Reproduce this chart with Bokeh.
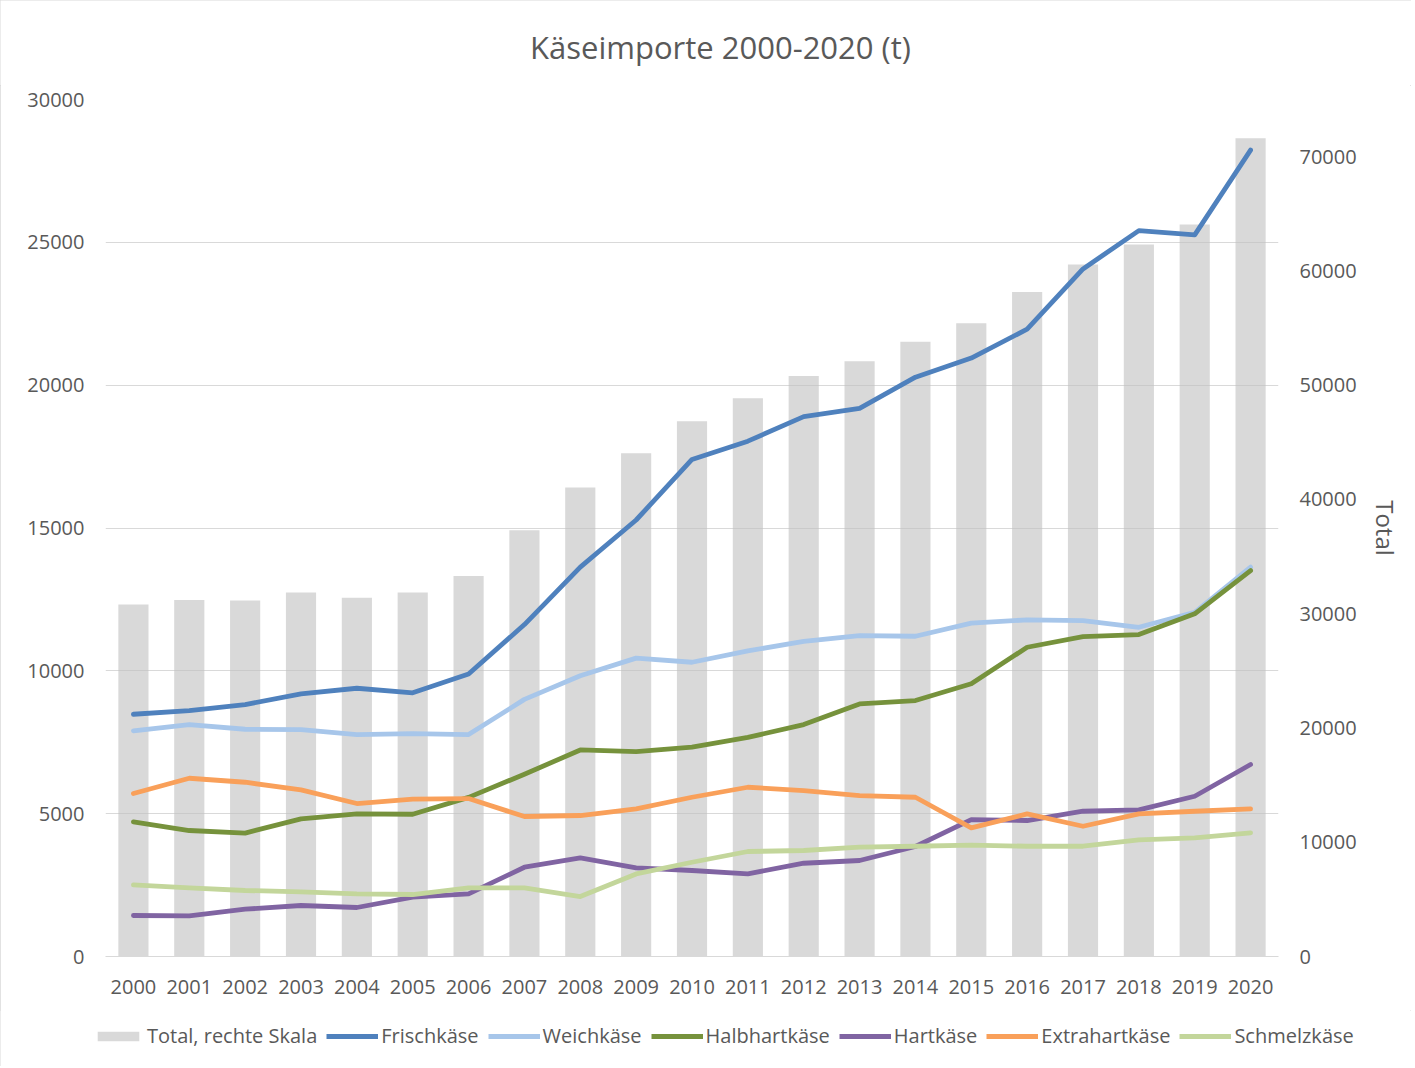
from bokeh.plotting import figure
from bokeh.layouts import column
from bokeh.models import (Range1d, LinearAxis, FixedTicker, Legend, LegendItem, FactorRange,
                          ColumnDataSource, Label)
from bokeh.embed import file_html
from bokeh.resources import INLINE

years = [str(y) for y in range(2000, 2021)]
total = [30800, 31200, 31150, 31850, 31400, 31850, 33300, 37300, 41040, 44050, 46850,
         48850, 50800, 52100, 53800, 55420, 58160, 60550, 62300, 64050, 71600]
frisch = [8480, 8610, 8820, 9190, 9390, 9230, 9890, 11620, 13630, 15280, 17400,
          18040, 18900, 19190, 20280, 20950, 21960, 24070, 25410, 25260, 28230]
weich = [7900, 8120, 7955, 7945, 7770, 7805, 7770, 9000, 9830, 10445, 10300,
         10700, 11030, 11235, 11210, 11670, 11785, 11760, 11525, 12050, 13630]
halbhart = [4715, 4410, 4320, 4820, 4990, 4980, 5570, 6380, 7230, 7175, 7330,
            7670, 8120, 8840, 8960, 9550, 10825, 11200, 11270, 11995, 13510]
hart = [1435, 1420, 1655, 1785, 1715, 2080, 2195, 3125, 3450, 3105, 3010,
        2895, 3265, 3360, 3850, 4790, 4760, 5085, 5130, 5610, 6720]
extrahart = [5705, 6240, 6100, 5830, 5355, 5510, 5530, 4900, 4935, 5170, 5575,
             5925, 5810, 5635, 5575, 4500, 4990, 4560, 4990, 5085, 5165]
schmelz = [2510, 2405, 2310, 2265, 2195, 2170, 2400, 2400, 2100, 2890, 3300,
           3675, 3710, 3830, 3860, 3900, 3860, 3860, 4080, 4155, 4330]

title_text = "Käseimporte 2000-2020 (t)"
total_label = "Total, rechte Skala"
series = [
    ("Frischkäse", frisch, "#4F81BD"),
    ("Weichkäse", weich, "#A7C6EA"),
    ("Halbhartkäse", halbhart, "#76923C"),
    ("Hartkäse", hart, "#8064A2"),
    ("Extrahartkäse", extrahart, "#F9A05A"),
    ("Schmelzkäse", schmelz, "#C3D69B"),
]

FONT = "Open Sans"
TXT = "#595959"
W = 1411
BAR = "#D9D9D9"
NAN = float("nan")


def blank(h):
    f = figure(width=W, height=h, x_range=Range1d(0, W), y_range=Range1d(0, h),
               output_backend="svg", toolbar_location=None,
               x_axis_location=None, y_axis_location=None,
               min_border_left=0, min_border_right=0, min_border_top=0, min_border_bottom=0)
    f.grid.visible = False
    f.outline_line_color = None
    f.border_fill_color = "white"
    f.background_fill_color = "white"
    f.frame_align = False
    return f


# ---- title strip
TH = 85
tf = blank(TH)
tf.add_layout(Label(x=720, y=TH - 46, text=title_text, text_align="center",
                    text_baseline="alphabetic", text_font=FONT, text_font_size="31px",
                    text_color=TXT))

# ---- main chart
p = figure(width=W, height=925, x_range=FactorRange(*years), y_range=Range1d(0, 30000),
           output_backend="svg", toolbar_location=None,
           min_border_left=105, min_border_right=133, min_border_top=14, min_border_bottom=54)
p.frame_align = False
p.extra_y_ranges = {"total": Range1d(0, 75000)}
p.outline_line_color = None
p.background_fill_color = "white"
p.border_fill_color = "white"

src = ColumnDataSource(dict(year=years, total=total))
bars = p.vbar(x="year", top="total", width=0.54, source=src, y_range_name="total",
              fill_color=BAR, line_color=None)
bars.level = "image"

for name, vals, col in series:
    p.line(years, vals, line_color=col, line_width=4.8, line_cap="round", line_join="round")

p.xgrid.grid_line_color = None
p.ygrid.grid_line_color = "#BFBFBF"
p.ygrid.grid_line_alpha = 0.6
p.ygrid.grid_line_width = 1
p.ygrid.ticker = FixedTicker(ticks=list(range(0, 30001, 5000)))
p.ygrid.level = "underlay"

ya = p.yaxis[0]
ya.ticker = FixedTicker(ticks=list(range(0, 30001, 5000)))
ya.axis_line_color = None
ya.major_tick_line_color = None
ya.minor_tick_line_color = None
ya.major_label_standoff = 15
ya.major_label_text_font = FONT
ya.major_label_text_font_size = "20px"
ya.major_label_text_color = TXT

xa = p.xaxis[0]
xa.axis_line_color = "#D9D9D9"
xa.major_tick_line_color = None
xa.minor_tick_line_color = None
xa.major_label_standoff = 17
xa.major_label_text_font = FONT
xa.major_label_text_font_size = "20px"
xa.major_label_text_color = TXT

ra = LinearAxis(y_range_name="total", axis_label="Total",
                ticker=FixedTicker(ticks=list(range(0, 70001, 10000))))
ra.axis_line_color = None
ra.major_tick_line_color = None
ra.minor_tick_line_color = None
ra.major_label_standoff = 15
ra.major_label_text_font = FONT
ra.major_label_text_font_size = "20px"
ra.major_label_text_color = TXT
ra.axis_label_text_font = FONT
ra.axis_label_text_font_size = "24px"
ra.axis_label_text_font_style = "normal"
ra.axis_label_text_color = TXT
ra.axis_label_standoff = 9
p.add_layout(ra, "right")

# ---- legend strip (keys are non-drawing proxies styled like the chart's renderers)
LH = 56
lf = blank(LH)
items = [LegendItem(label=total_label,
                    renderers=[lf.vbar(x=[NAN], top=[NAN], width=1, fill_color=BAR,
                                       line_color=None)])]
for name, vals, col in series:
    r = lf.line(x=[NAN], y=[NAN], line_color=col, line_width=4.8)
    items.append(LegendItem(label=name, renderers=[r]))
leg = Legend(items=items, orientation="horizontal", location=(92, 17),
             glyph_width=52, glyph_height=12, label_standoff=3, spacing=9,
             padding=0, margin=0, border_line_color=None, background_fill_alpha=0,
             label_text_font=FONT, label_text_font_size="20px", label_text_color=TXT,
             label_height=20)
lf.add_layout(leg, "center")

layout = column(tf, p, lf, spacing=0)
layout.styles = {"outline": "1px solid #D9D9D9", "outline-offset": "-1px"}

open("out.html", "w").write(file_html(layout, INLINE))
